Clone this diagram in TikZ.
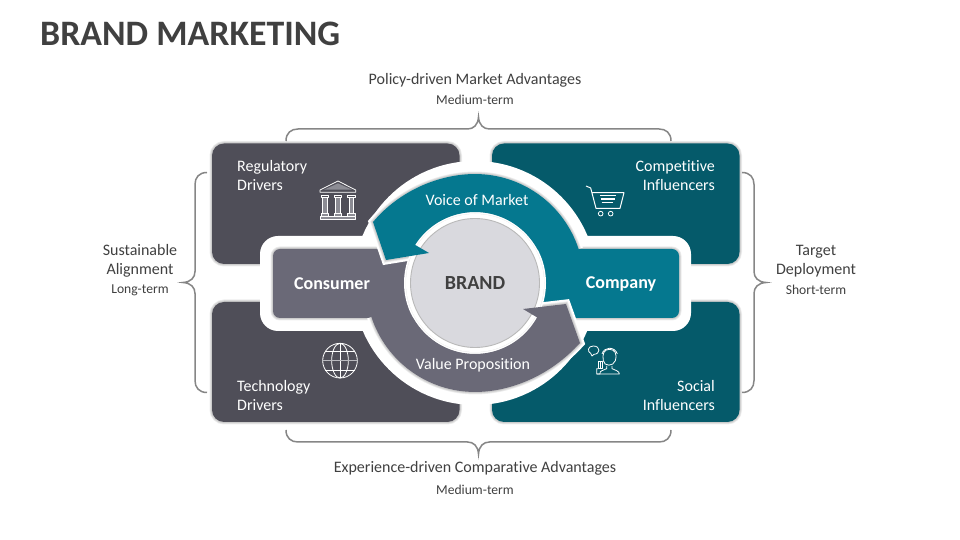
\documentclass[tikz,border=0pt]{standalone}
\usepackage{fontspec}
\setmainfont{Carlito}[Ligatures=NoCommon]
\definecolor{quadgray}{HTML}{4F4E58}
\definecolor{quadteal}{HTML}{055A6A}
\definecolor{ringgray}{HTML}{6A6977}
\definecolor{ringteal}{HTML}{05788F}
\definecolor{hubgray}{HTML}{D9D9DE}
\definecolor{inkgray}{HTML}{404040}
\definecolor{iconfill}{HTML}{8C8C94}
\begin{document}
\begin{tikzpicture}
[x=1pt,y=1pt,%
  bracedecorate/.style={draw=gray!95,line width=1.5pt},%
  icondecorate/.style={draw=white,line width=0.8pt,line join=round},%
  sidetext/.style={text=inkgray,align=center,inner sep=0pt,font=\fontsize{16}{19}\selectfont},%
  smalltext/.style={text=inkgray,inner sep=0pt,font=\fontsize{13.6}{15}\selectfont},%
  quadtext/.style={text=white,inner sep=0pt,font=\fontsize{16}{19.5}\selectfont},%
  ringtext/.style={text=white,inner sep=0pt,font=\fontsize{16}{19}\selectfont},%
  boxtext/.style={text=white,inner sep=0pt,font=\fontsize{18}{20}\selectfont\bfseries}]
%%
\useasboundingbox (0,0) rectangle (960,540);
\fill[white] (0,0) rectangle (960,540);
\coordinate (hub) at (475,257);
%%
%% Macros
%% Soft edge
\newcommand{\softedge}[1]{%
  \foreach \w in {5,3.5,2} {
    \draw[black,line width=\w pt,opacity=0.07] #1;
  }
}
%% Curly bracket
\newcommand{\curlybrace}[2]{%
  \draw[#1,bracedecorate]
  ({-#2},0) .. controls ({-#2},8) and ({-#2+5},12) .. ({-#2+12},12)
  -- (-11,12) .. controls (-5,12) and (-0.5,16) .. (0,24)
  .. controls (0.5,16) and (5,12) .. (11,12)
  -- ({#2-12},12) .. controls ({#2-5},12) and ({#2},8) .. ({#2},0);
}
%% Arrow outlines
\def\tealedge{(578.6,291) arc (18.2:90:109)
  .. controls (440,366) and (400,350) .. (373,318)
  -- (386,280) -- (429,287) -- (415.1,295.1) arc (147.5:28.6:71)}
\def\grayedge{(371.4,223) arc (198.2:270:109)
  .. controls (510,148) and (550,164) .. (580,197)
  -- (566,236) -- (523,231) -- (537.1,222.6) arc (331:209.5:71)}
%%
%% Corner panels
\foreach \panelcolor/\xa/\ya/\xb/\yb in {
  quadgray/212/276/459.5/396.5, quadteal/492/276/739.5/396.5,
  quadgray/212/118/459.5/238, quadteal/492/118/739.5/238}
{
  \softedge{[rounded corners=12pt] (\xa,\ya) rectangle (\xb,\yb)}
  \fill[\panelcolor,rounded corners=12pt] (\xa,\ya) rectangle (\xb,\yb);
}
%%
%% White backing
\fill[white] (hub) circle (122);
\fill[white,rounded corners=18pt] (260,209) rectangle (691,304);
%%
%% Side boxes
\softedge{[rounded corners=7pt] (273,222) rectangle (440,291)}
\softedge{[rounded corners=7pt] (510,222) rectangle (679,291)}
\fill[ringgray,rounded corners=7pt] (273,222) rectangle (440,291);
\fill[ringteal,rounded corners=7pt] (510,222) rectangle (679,291);
%%
%% Arrow backings
\draw[white,line width=9pt,line join=miter] \grayedge;
\draw[white,line width=9pt,line join=miter] \tealedge;
\softedge{\grayedge}
\softedge{\tealedge}
%%
%% Hub
\fill[white] (hub) circle (71);
\softedge{(hub) circle (67)}
\fill[white] (hub) circle (69);
\filldraw[fill=hubgray,draw=gray!55,line width=0.9pt] (hub) circle (64.5);
%%
%% Arrows
\fill[ringgray] \grayedge -- (405,228) -- (371.4,228) -- cycle;
\fill[ringteal] \tealedge -- (545,285) -- (578.6,285) -- cycle;
%%
%% Brackets
\curlybrace{shift={(478.5,399)}}{192.5}
\curlybrace{shift={(478.5,110)},yscale=-1}{192.5}
\curlybrace{shift={(207,257.5)},rotate=90}{110}
\curlybrace{shift={(742,257.5)},rotate=-90}{110}
%%
%% Temple icon
\begin{scope}[shift={(310,365)},xscale=1/3,yscale=-1/3]
  \fill[iconfill] (84,25) -- (42,44) -- (126,44) -- cycle;
  \draw[icondecorate] (30,45) -- (84,18) -- (137,45) -- (137,52) -- (30,52) -- cycle;
  \foreach \x in {44,84,124} {
    \filldraw[icondecorate,fill=iconfill] ({\x-7},68) rectangle ({\x+7},115);
    \draw[icondecorate] ({\x-11},60) rectangle ({\x+11},68);
    \filldraw[icondecorate,fill=iconfill] ({\x-11},115) rectangle ({\x+11},124);
  }
  \filldraw[icondecorate,fill=iconfill] (30,124) rectangle (137,132);
\end{scope}
%%
%% Cart icon
\begin{scope}[shift={(580,360)},xscale=1/3,yscale=-1/3]
  \draw[icondecorate,line width=1pt] (18,18) -- (32,24) -- (48,85) -- (120,85) -- (132,38) -- (35,38);
  \draw[icondecorate] (60,46) -- (108,46);
  \draw[icondecorate,line width=1.2pt] (62,57) -- (105,57);
  \draw[icondecorate] (65,68) -- (100,68);
  \draw[icondecorate] (62,101) circle (7);
  \draw[icondecorate] (92,101) circle (7);
\end{scope}
%%
%% Globe icon
\begin{scope}[shift={(315,202)},xscale=1/3,yscale=-1/3]
  \draw[icondecorate] (75,68) circle (52);
  \draw[icondecorate] (75,68) ellipse (25 and 52);
  \draw[icondecorate] (75,16) -- (75,120);
  \draw[icondecorate] (31,40) -- (119,40);
  \draw[iconfill!60!white,line width=1.4pt] (23,68) -- (127,68);
  \draw[icondecorate] (31,96) -- (119,96);
\end{scope}
%%
%% Speaker icon
\begin{scope}[shift={(580,200)},xscale=1/3,yscale=-1/3]
  \draw[icondecorate] (32,40) .. controls (22,36) and (22,18) .. (40,18)
    .. controls (62,18) and (62,42) .. (42,43) -- (36,48) -- cycle;
  \draw[icondecorate] (70,62) .. controls (72,80) and (100,80) .. (106,62)
    .. controls (112,40) and (104,28) .. (88,28)
    .. controls (72,28) and (66,42) .. (70,62);
  \draw[icondecorate] (66,42) .. controls (72,20) and (104,18) .. (112,42);
  \draw[icondecorate] (80,78) -- (80,86) -- (66,92) .. controls (60,94) and (60,96) .. (60,102)
    -- (50,102) -- (50,86) -- (54,86);
  \draw[icondecorate] (96,78) -- (96,86) -- (110,92) .. controls (116,95) and (118,98) .. (118,102) -- (50,102);
  \draw[icondecorate] (54,64) rectangle (66,86);
  \draw[icondecorate] (60,64) -- (60,86);
\end{scope}
%%
%% Title
\node[anchor=west,inner sep=0pt,text=inkgray,font=\fontsize{35.8}{40}\selectfont\bfseries]
  (title) at (40,506) {BRAND MARKETING};
%%
%% Outer labels
\node[sidetext] (policy) at (475,460) {Policy-driven Market Advantages};
\node[smalltext] (policyterm) at (475,440) {Medium-term};
\node[sidetext] (experience) at (475,72) {Experience-driven Comparative Advantages};
\node[smalltext] (experienceterm) at (475,50) {Medium-term};
\node[sidetext] (sustain) at (140,279.5) {Sustainable\\Alignment};
\node[smalltext] (sustainterm) at (140,249.5) {Long-term};
\node[sidetext] (target) at (816,279) {Target\\Deployment};
\node[smalltext] (targetterm) at (816,250) {Short-term};
%%
%% Panel labels
\node[quadtext,anchor=west,align=left] (regulatory) at (237,364.5) {Regulatory\\Drivers};
\node[quadtext,anchor=west,align=left] (technology) at (237,144.5) {Technology\\Drivers};
\node[quadtext,anchor=east,align=right] (competitive) at (715,364.5) {Competitive\\Influencers};
\node[quadtext,anchor=east,align=right] (social) at (715,144.5) {Social\\Influencers};
%%
%% Ring labels
\node[ringtext] (voice) at (477,340) {Voice of Market};
\node[ringtext] (value) at (473,174.5) {Value Proposition};
\node[boxtext] (consumer) at (332,256.5) {Consumer};
\node[boxtext] (company) at (621,256) {Company};
\node[text=inkgray,inner sep=0pt,font=\fontsize{20}{22}\selectfont\bfseries] (brand) at (475,256.5) {BRAND};
\end{tikzpicture}
\end{document}
